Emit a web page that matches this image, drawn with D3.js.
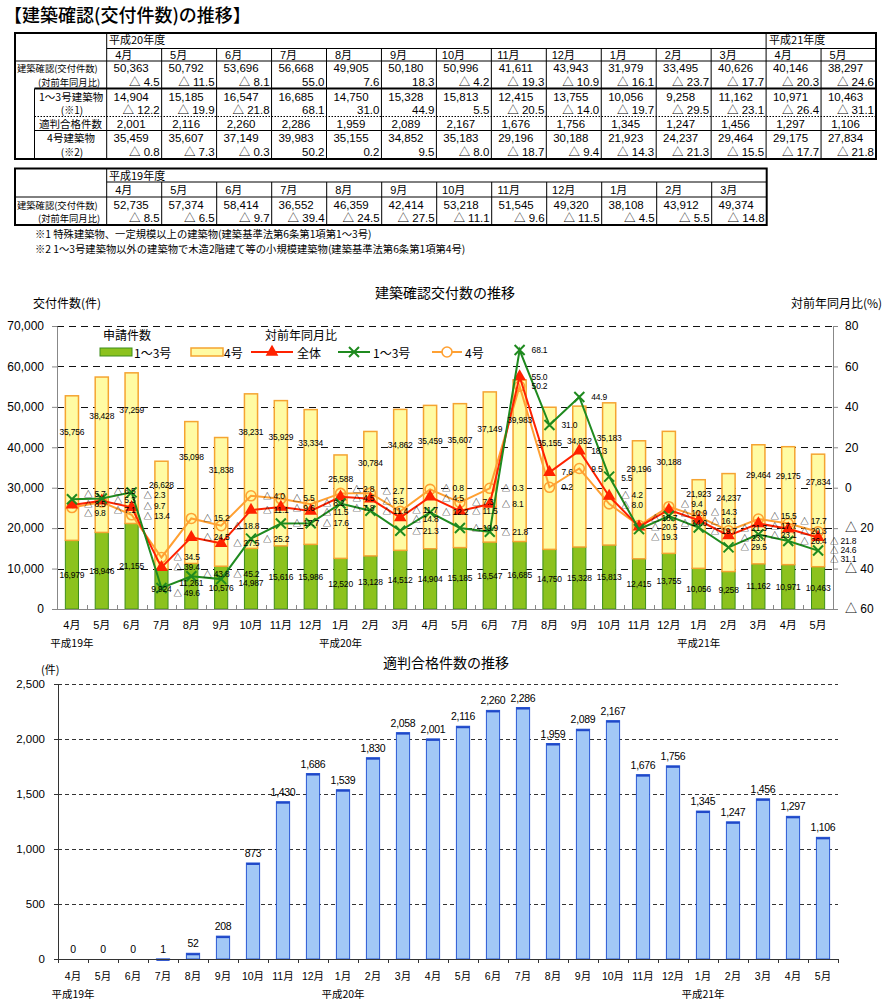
<!DOCTYPE html>
<html><head><meta charset="utf-8">
<script src="https://cdn.jsdelivr.net/npm/d3@7"></script>
<style>body{margin:0;background:#fff}svg{display:block}</style>
</head><body>
<svg id="c" width="895" height="1001"></svg>
<script>
// ---------------- DATA ----------------
const monthsH20 = ["4月","5月","6月","7月","8月","9月","10月","11月","12月","1月","2月","3月","4月","5月"];
const monthsH19 = ["4月","5月","6月","7月","8月","9月","10月","11月","12月","1月","2月","3月"];
const kofu20    = [50363,50792,53696,56668,49905,50180,50996,41611,43943,31979,33495,40626,40146,38297];
const kofuYoY20 = [-4.5,-11.5,-8.1,55.0,7.6,18.3,-4.2,-19.3,-10.9,-16.1,-23.7,-17.7,-20.3,-24.6];
const g13_20    = [14904,15185,16547,16685,14750,15328,15813,12415,13755,10056,9258,11162,10971,10463];
const g13YoY20  = [-12.2,-19.9,-21.8,68.1,31.0,44.9,5.5,-20.5,-14.0,-19.7,-29.5,-23.1,-26.4,-31.1];
const tekihan20 = [2001,2116,2260,2286,1959,2089,2167,1676,1756,1345,1247,1456,1297,1106];
const g4_20     = [35459,35607,37149,39983,35155,34852,35183,29196,30188,21923,24237,29464,29175,27834];
const g4YoY20   = [-0.8,-7.3,-0.3,50.2,0.2,9.5,-8.0,-18.7,-9.4,-14.3,-21.3,-15.5,-17.7,-21.8];

const kofu19    = [52735,57374,58414,36552,46359,42414,53218,51545,49320,38108,43912,49374];
const kofuYoY19 = [-8.5,-6.5,-9.7,-39.4,-24.5,-27.5,-11.1,-9.6,-11.5,-4.5,-5.5,-14.8];
const g13_19    = [16979,18946,21155,9924,11261,10576,14987,15616,15986,12520,13128,14512];
const g4_19     = [35756,38428,37259,26628,35098,31838,38231,35929,33334,25588,30784,34862];
const g13YoY19  = [-5.7,-5.3,-2.3,-49.6,-43.8,-45.2,-25.2,-17.7,-17.6,-7.8,-11.4,-21.3];
const g4YoY19   = [-9.8,-7.1,-13.4,-34.5,-15.2,-18.8,-4.0,-5.5,-8.2,-2.8,-2.7,-11.7];

const tekihanAll = [0,0,0,1,52,208,873,1430,1686,1539,1830,2058,2001,2116,2260,2286,1959,2089,2167,1676,1756,1345,1247,1456,1297,1106];

const chartMonths = monthsH19.concat(monthsH20);
const yearText = ["平成19年","平成20年","平成21年"];
const yearIdx  = [0, 9, 21];
const leftTicks1  = [0,10000,20000,30000,40000,50000,60000,70000];
const rightTicks1 = [-60,-40,-20,0,20,40,60,80];
const ticks2 = [0,500,1000,1500,2000,2500];

// --------------- HELPERS ---------------
const NUM = "'Liberation Sans','Noto Sans CJK JP',sans-serif";
const JP  = "'Noto Sans CJK JP',sans-serif";
const fmt = d3.format(",");
const fmtYoY = v => v < 0 ? "△ " + (-v).toFixed(1) : v.toFixed(1);
const fmtAxR = v => v < 0 ? "△ " + (-v) : String(v);
const svg = d3.select("#c");
const px = v => Math.round(v) + 0.5;
function line(g, x1, y1, x2, y2, o = {}) {
  return g.append("line").attr("x1", x1).attr("y1", y1).attr("x2", x2).attr("y2", y2)
    .attr("stroke", o.c || "#000").attr("stroke-width", o.w || 1)
    .attr("stroke-dasharray", o.d || null);
}
function text(g, x, y, t, o = {}) {
  return g.append("text").attr("x", x).attr("y", y).text(t)
    .attr("font-family", o.f || JP).attr("font-size", o.s || 11)
    .attr("text-anchor", o.a || "start").attr("fill", o.c || "#000")
    .attr("letter-spacing", o.ls || null).attr("font-weight", o.fw || null);
}

// --------------- TITLE ---------------
text(svg, 4, 22, "【建築確認(交付件数)の推移】", {s: 18, fw: 500});

// --------------- TABLE 1 ---------------
const t1 = svg.append("g");
const colT = d3.scaleBand().domain(d3.range(14)).range([106.7, 876]);
const cw = colT.step();
const T1 = {top: 33, hdr: 48.5, mon: 61, r1b: 88.5, dot: 116.5, sol: 130.5, bot: 159};
t1.append("rect").attr("x", 15).attr("y", T1.top).attr("width", 861).attr("height", T1.bot - T1.top)
  .attr("fill", "none").attr("stroke", "#000").attr("stroke-width", 2);
line(t1, 106.7, T1.hdr, 876, T1.hdr);
line(t1, 15, T1.mon, 876, T1.mon);
line(t1, 34.5, T1.r1b, 876, T1.r1b, {w: 2});
line(t1, 34.5, T1.dot, 876, T1.dot, {d: "1.5,1.5"});
line(t1, 34.5, T1.sol, 876, T1.sol);
line(t1, 34.5, T1.r1b, 34.5, T1.bot);
line(t1, 106.7, T1.top, 106.7, T1.bot);
d3.range(1, 14).forEach(i => line(t1, colT(i), i === 12 ? T1.top : T1.hdr, colT(i), T1.bot));
text(t1, 109, 44, "平成20年度", {s: 11});
text(t1, colT(12) + 3, 44, "平成21年度", {s: 11});
t1.selectAll("text.m").data(monthsH20).join("text").attr("class", "m")
  .attr("x", (d, i) => colT(i) + 17).attr("y", 59).attr("text-anchor", "middle")
  .attr("font-family", NUM).attr("font-size", 11).text(d => d);
const rows1 = [
  {v: kofu20, y: 72, f: fmt}, {v: kofuYoY20, y: 85.5, f: fmtYoY, r: true},
  {v: g13_20, y: 100.5, f: fmt}, {v: g13YoY20, y: 114, f: fmtYoY, r: true},
  {v: tekihan20, y: 128, f: fmt},
  {v: g4_20, y: 141.5, f: fmt}, {v: g4YoY20, y: 156, f: fmtYoY, r: true}
];
rows1.forEach(r => {
  t1.append("g").selectAll("text").data(r.v).join("text")
    .attr("x", (d, i) => r.r ? colT(i) + cw - 2 : colT(i) + cw / 2 - 3)
    .attr("y", r.y).attr("text-anchor", r.r ? "end" : "middle")
    .attr("font-family", NUM).attr("font-size", 11.5).text(d => r.f(d));
});
text(t1, 17, 72, "建築確認(交付件数)", {s: 9.3});
text(t1, 38, 85.5, "(対前年同月比)", {s: 9.3});
text(t1, 39, 100.5, "1～3号建築物", {s: 10.5});
text(t1, 72, 114, "(※1)", {s: 10, a: "middle"});
text(t1, 39, 128, "適判合格件数", {s: 10.5});
text(t1, 71, 141.5, "4号建築物", {s: 10.5, a: "middle"});
text(t1, 72, 156, "(※2)", {s: 10, a: "middle"});

// --------------- TABLE 2 ---------------
const t2 = svg.append("g");
const colT2 = d3.scaleBand().domain(d3.range(12)).range([106.7, 766.7]);
const T2 = {top: 168.5, hdr: 182, mon: 197, bot: 225};
t2.append("rect").attr("x", 15).attr("y", T2.top).attr("width", 751.7).attr("height", T2.bot - T2.top)
  .attr("fill", "none").attr("stroke", "#000").attr("stroke-width", 2);
line(t2, 106.7, T2.hdr, 766.7, T2.hdr);
line(t2, 15, T2.mon, 766.7, T2.mon);
line(t2, 106.7, T2.top, 106.7, T2.bot);
d3.range(1, 12).forEach(i => line(t2, colT2(i), T2.hdr, colT2(i), T2.bot));
text(t2, 109, 180, "平成19年度", {s: 11});
t2.selectAll("text.m").data(monthsH19).join("text").attr("class", "m")
  .attr("x", (d, i) => colT2(i) + 17).attr("y", 194).attr("text-anchor", "middle")
  .attr("font-family", NUM).attr("font-size", 11).text(d => d);
t2.append("g").selectAll("text").data(kofu19).join("text")
  .attr("x", (d, i) => colT2(i) + cw / 2 - 3).attr("y", 208.5).attr("text-anchor", "middle")
  .attr("font-family", NUM).attr("font-size", 11.5).text(d => fmt(d));
t2.append("g").selectAll("text").data(kofuYoY19).join("text")
  .attr("x", (d, i) => colT2(i) + cw - 2).attr("y", 222).attr("text-anchor", "end")
  .attr("font-family", NUM).attr("font-size", 11.5).text(d => fmtYoY(d));
text(t2, 17, 208.5, "建築確認(交付件数)", {s: 9.3});
text(t2, 38, 222, "(対前年同月比)", {s: 9.3});
text(svg, 35, 238, "※1  特殊建築物、一定規模以上の建築物(建築基準法第6条第1項第1～3号)", {s: 10.3});
text(svg, 35, 253, "※2  1～3号建築物以外の建築物で木造2階建て等の小規模建築物(建築基準法第6条第1項第4号)", {s: 10.3});

// --------------- CHART 1 ---------------
const c1 = svg.append("g");
const bar13 = g13_19.concat(g13_20);
const bar4 = g4_19.concat(g4_20);
const yoyAll = kofuYoY19.concat(kofuYoY20);
const yoy13 = g13YoY19.concat(g13YoY20);
const yoy4 = g4YoY19.concat(g4YoY20);
const x1 = d3.scaleBand().domain(d3.range(26)).range([57, 833]).paddingInner(0.56).paddingOuter(0.28);
const yL = d3.scaleLinear().domain([0, 70000]).range([609, 326]);
const yR = d3.scaleLinear().domain([-60, 80]).range([609, 326]);
const cx1 = i => x1(i) + x1.bandwidth() / 2;
const GREEN_F = "#8CC21E", GREEN_S = "#3E8E1A", YEL_F = "#FFFBA3", YEL_S = "#F5A431";
const RED = "#FF2200", DKGREEN = "#1F8A1F", ORANGE = "#FFA032";

text(c1, 445, 298, "建築確認交付数の推移", {s: 14, a: "middle"});
text(c1, 33, 308, "交付件数(件)", {s: 12});
text(c1, 791, 308, "対前年同月比(%)", {s: 12});

c1.append("g").selectAll("line").data(leftTicks1.slice(1)).join("line")
  .attr("x1", 57).attr("x2", 833).attr("y1", d => px(yL(d))).attr("y2", d => px(yL(d)))
  .attr("stroke", "#111").attr("stroke-dasharray", "7,5");

// legend background
c1.append("rect").attr("x", 92).attr("y", 329).attr("width", 401).attr("height", 35).attr("fill", "#fff");

// bars
c1.append("g").selectAll("rect").data(bar13).join("rect")
  .attr("x", (d, i) => x1(i)).attr("width", x1.bandwidth())
  .attr("y", d => yL(d)).attr("height", d => yL(0) - yL(d))
  .attr("fill", GREEN_F).attr("stroke", GREEN_S).attr("stroke-width", 1);
c1.append("g").selectAll("rect").data(bar4).join("rect")
  .attr("x", (d, i) => x1(i)).attr("width", x1.bandwidth())
  .attr("y", (d, i) => yL(d + bar13[i])).attr("height", (d, i) => yL(bar13[i]) - yL(d + bar13[i]))
  .attr("fill", YEL_F).attr("stroke", YEL_S).attr("stroke-width", 1.5);

// axes
const axL = c1.append("g").attr("transform", "translate(57,0)")
  .call(d3.axisLeft(yL).tickValues(leftTicks1).tickFormat(fmt).tickSize(5).tickSizeOuter(0).tickPadding(8));
const axR = c1.append("g").attr("transform", "translate(833,0)")
  .call(d3.axisRight(yR).tickValues(rightTicks1).tickFormat(fmtAxR).tickSize(5).tickSizeOuter(0).tickPadding(7));
[axL, axR].forEach(a => {
  a.selectAll("path,line").attr("stroke", "#888");
  a.selectAll("text").attr("font-family", NUM).attr("font-size", 12).attr("fill", "#000");
});
line(c1, 57, 609.5, 833, 609.5, {c: "#888"});
c1.append("g").selectAll("line").data(d3.range(27)).join("line")
  .attr("x1", k => px(57 + k * x1.step())).attr("x2", k => px(57 + k * x1.step()))
  .attr("y1", 605).attr("y2", 609).attr("stroke", "#888");
c1.append("g").selectAll("text").data(chartMonths).join("text")
  .attr("x", (d, i) => cx1(i)).attr("y", 629).attr("text-anchor", "middle")
  .attr("font-family", NUM).attr("font-size", 11).text(d => d);
c1.append("g").selectAll("text").data(yearText).join("text")
  .attr("x", (d, k) => cx1(yearIdx[k])).attr("y", 647).attr("text-anchor", "middle")
  .attr("font-family", JP).attr("font-size", 10.5).text(d => d);

// lines
const lineGen = d3.line().x((d, i) => cx1(i)).y(d => yR(d));
c1.append("path").datum(yoy4).attr("d", lineGen).attr("fill", "none").attr("stroke", ORANGE).attr("stroke-width", 2);
c1.append("g").selectAll("circle").data(yoy4).join("circle")
  .attr("cx", (d, i) => cx1(i)).attr("cy", d => yR(d)).attr("r", 5)
  .attr("fill", "none").attr("stroke", ORANGE).attr("stroke-width", 1.6);
c1.append("path").datum(yoyAll).attr("d", lineGen).attr("fill", "none").attr("stroke", RED).attr("stroke-width", 2);
c1.append("g").selectAll("path").data(yoyAll).join("path")
  .attr("transform", (d, i) => `translate(${cx1(i)},${yR(d)})`)
  .attr("d", d3.symbol(d3.symbolTriangle, 70)).attr("fill", RED);
c1.append("path").datum(yoy13).attr("d", lineGen).attr("fill", "none").attr("stroke", DKGREEN).attr("stroke-width", 2);
c1.append("g").selectAll("path").data(yoy13).join("path")
  .attr("transform", (d, i) => `translate(${cx1(i)},${yR(d)})`)
  .attr("d", "M-5,-5L5,5M-5,5L5,-5").attr("stroke", DKGREEN).attr("stroke-width", 2).attr("fill", "none");

// ---- data labels (bar values + yoy), relaxed vertically to avoid collisions
const labels = [];
bar13.forEach((d, i) => labels.push({x: cx1(i), y: yL(d / 2) + 3, t: fmt(d), a: "middle"}));
bar4.forEach((d, i) => labels.push({x: cx1(i), y: yL(bar13[i] + d * 0.75) + 3, t: fmt(d), a: "middle"}));
[yoy4, yoyAll, yoy13].forEach(s => s.forEach((v, i) =>
  labels.push({x: cx1(i) + 12, y: yR(v) + 3, t: fmtYoY(v), a: "start"})));
const lblSel = c1.append("g").selectAll("text").data(labels).join("text")
  .attr("x", d => d.x).attr("y", d => d.y).attr("text-anchor", d => d.a)
  .attr("font-family", NUM).attr("font-size", 8.5).attr("letter-spacing", -0.2).text(d => d.t);
lblSel.each(function (d) { const b = this.getBBox(); d.bx = b.x; d.bw = b.width; d.h = 9.5; });
// right-axis tick labels act as fixed obstacles
const obstacles = [];
axR.selectAll(".tick text").each(function () {
  const b = this.getBBox(); const m = this.parentNode.transform.baseVal.consolidate().matrix;
  obstacles.push({bx: 833 + b.x, bw: b.width, y: m.f + b.y + b.height * 0.8, h: 13, fixed: true});
});
const items = labels.concat(obstacles);
for (let it = 0; it < 100; it++) {
  let moved = false;
  for (let a = 0; a < items.length; a++) {
    for (let b = a + 1; b < items.length; b++) {
      const A = items[a], B = items[b];
      if (A.fixed && B.fixed) continue;
      if (A.bx + A.bw <= B.bx + 0.5 || B.bx + B.bw <= A.bx + 0.5) continue;
      const dy = B.y - A.y, ov = (A.h + B.h) / 2 - Math.abs(dy);
      if (ov > 0) {
        const s = dy >= 0 ? 1 : -1;
        if (A.fixed) B.y += s * (ov + 0.02);
        else if (B.fixed) A.y -= s * (ov + 0.02);
        else { A.y -= s * (ov / 2 + 0.01); B.y += s * (ov / 2 + 0.01); }
        moved = true;
      }
    }
  }
  if (!moved) break;
}
labels.forEach(d => { d.y = Math.min(d.y, 606); });
lblSel.attr("y", d => d.y);

// legend
const lg = c1.append("g");
text(lg, 103, 340, "申請件数", {s: 12});
text(lg, 265, 340, "対前年同月比", {s: 12});
lg.append("rect").attr("x", 100).attr("y", 348).attr("width", 32).attr("height", 8).attr("fill", GREEN_F).attr("stroke", GREEN_S);
text(lg, 134, 357.5, "1～3号", {s: 12});
lg.append("rect").attr("x", 191).attr("y", 348).attr("width", 32).attr("height", 8).attr("fill", YEL_F).attr("stroke", YEL_S).attr("stroke-width", 1.5);
text(lg, 224, 357.5, "4号", {s: 12});
line(lg, 251, 352, 293, 352, {c: RED, w: 2});
lg.append("path").attr("transform", "translate(272,352)").attr("d", d3.symbol(d3.symbolTriangle, 70)).attr("fill", RED);
text(lg, 297, 357.5, "全体", {s: 12});
line(lg, 338, 352, 370, 352, {c: DKGREEN, w: 2});
lg.append("path").attr("transform", "translate(354,352)").attr("d", "M-5,-5L5,5M-5,5L5,-5").attr("stroke", DKGREEN).attr("stroke-width", 2);
text(lg, 373, 357.5, "1～3号", {s: 12});
line(lg, 432, 352, 462, 352, {c: ORANGE, w: 2});
lg.append("circle").attr("cx", 447).attr("cy", 352).attr("r", 5).attr("fill", "#fff").attr("stroke", ORANGE).attr("stroke-width", 1.6);
text(lg, 465, 357.5, "4号", {s: 12});

// --------------- CHART 2 ---------------
const c2 = svg.append("g");
const x2 = d3.scaleBand().domain(d3.range(26)).range([58, 838]).paddingInner(0.56).paddingOuter(0.28);
const y2 = d3.scaleLinear().domain([0, 2500]).range([959, 684]);
const cx2 = i => x2(i) + x2.bandwidth() / 2;
text(c2, 446, 668, "適判合格件数の推移", {s: 14, a: "middle"});
text(c2, 41, 674, "(件)", {s: 11});
c2.append("g").selectAll("line").data(ticks2.slice(1)).join("line")
  .attr("x1", 58).attr("x2", 838).attr("y1", d => px(y2(d))).attr("y2", d => px(y2(d)))
  .attr("stroke", "#333").attr("stroke-dasharray", "4,3");
c2.append("g").selectAll("rect").data(tekihanAll).join("rect")
  .attr("x", (d, i) => x2(i)).attr("width", x2.bandwidth())
  .attr("y", d => y2(d)).attr("height", d => y2(0) - y2(d))
  .attr("fill", "#A2C8F6").attr("stroke", "#2A58D4").attr("stroke-width", 1);
c2.append("g").selectAll("line").data(tekihanAll).join("line")
  .attr("x1", (d, i) => x2(i)).attr("x2", (d, i) => x2(i) + x2.bandwidth())
  .attr("y1", d => y2(d) + 1).attr("y2", d => y2(d) + 1)
  .attr("stroke", "#1F48C8").attr("stroke-width", d => d > 0 ? 2 : 0);
const ax2 = c2.append("g").attr("transform", "translate(58,0)")
  .call(d3.axisLeft(y2).tickValues(ticks2).tickFormat(fmt).tickSize(4).tickSizeOuter(0).tickPadding(9));
ax2.selectAll("path,line").attr("stroke", "#333");
ax2.selectAll("text").attr("font-family", NUM).attr("font-size", 11.5).attr("fill", "#000");
line(c2, 58, 959.5, 838, 959.5, {c: "#333"});
c2.append("g").selectAll("line").data(d3.range(27)).join("line")
  .attr("x1", k => px(58 + k * x2.step())).attr("x2", k => px(58 + k * x2.step()))
  .attr("y1", 959).attr("y2", 963).attr("stroke", "#333");
c2.append("g").selectAll("text").data(tekihanAll).join("text")
  .attr("x", (d, i) => cx2(i)).attr("y", d => y2(d) - 6).attr("text-anchor", "middle")
  .attr("font-family", NUM).attr("font-size", 10.5).attr("letter-spacing", -0.3).text(d => fmt(d));
c2.append("g").selectAll("text").data(chartMonths).join("text")
  .attr("x", (d, i) => cx2(i)).attr("y", 980).attr("text-anchor", "middle")
  .attr("font-family", NUM).attr("font-size", 10.5).text(d => d);
c2.append("g").selectAll("text").data(yearText).join("text")
  .attr("x", (d, k) => cx2(yearIdx[k])).attr("y", 998).attr("text-anchor", "middle")
  .attr("font-family", JP).attr("font-size", 10.5).text(d => d);
</script>
</body></html>
